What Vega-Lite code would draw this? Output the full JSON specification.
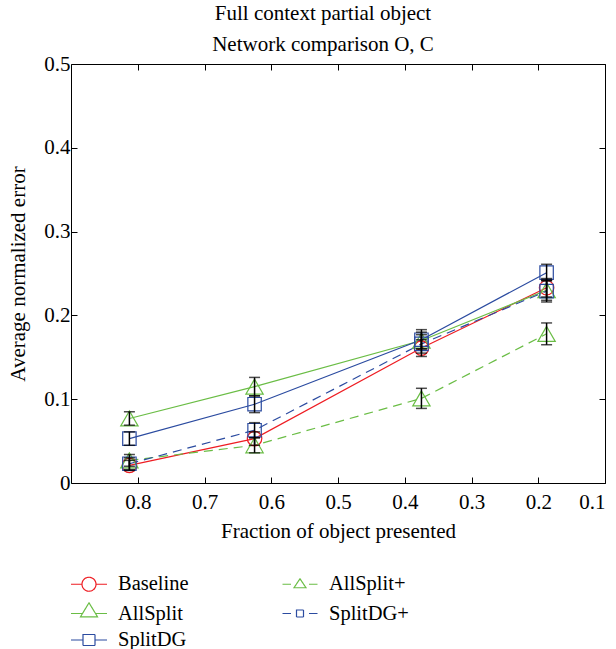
{
  "$schema": "https://vega.github.io/schema/vega-lite/v6.json",
  "width": 534,
  "height": 419,
  "autosize": {"type": "none"},
  "padding": {"left": 71, "top": 64, "right": 11, "bottom": 166},
  "background": "white",
  "config": {
    "font": "'Liberation Serif', 'Times New Roman', Times, serif",
    "view": {"stroke": "black", "strokeWidth": 1},
    "axis": {
      "domain": false,
      "grid": false,
      "labelFont": "'Liberation Serif', 'Times New Roman', Times, serif",
      "labelFontSize": 21,
      "labelColor": "black",
      "tickColor": "black",
      "tickSize": -6,
      "tickWidth": 1,
      "titleFont": "'Liberation Serif', 'Times New Roman', Times, serif",
      "titleFontSize": 21,
      "titleFontWeight": "normal",
      "titleColor": "black"
    }
  },
  "title": {
    "text": ["Full context partial object", "Network comparison O, C"],
    "font": "'Liberation Serif', 'Times New Roman', Times, serif",
    "fontSize": 21,
    "fontWeight": "normal",
    "color": "black",
    "lineHeight": 31,
    "offset": -2,
    "dx": -15,
    "anchor": "middle"
  },
  "data": {
    "values": [
      {"series": "Baseline", "frac": 0.8125, "err": 0.021, "lo": 0.015, "hi": 0.027},
      {"series": "Baseline", "frac": 0.625, "err": 0.053, "lo": 0.045, "hi": 0.061},
      {"series": "Baseline", "frac": 0.375, "err": 0.161, "lo": 0.151, "hi": 0.171},
      {"series": "Baseline", "frac": 0.1875, "err": 0.233, "lo": 0.222, "hi": 0.244},
      {"series": "AllSplit", "frac": 0.8125, "err": 0.077, "lo": 0.069, "hi": 0.085},
      {"series": "AllSplit", "frac": 0.625, "err": 0.115, "lo": 0.104, "hi": 0.126},
      {"series": "AllSplit", "frac": 0.375, "err": 0.170, "lo": 0.160, "hi": 0.180},
      {"series": "AllSplit", "frac": 0.1875, "err": 0.230, "lo": 0.218, "hi": 0.242},
      {"series": "SplitDG", "frac": 0.8125, "err": 0.053, "lo": 0.045, "hi": 0.061},
      {"series": "SplitDG", "frac": 0.625, "err": 0.094, "lo": 0.084, "hi": 0.104},
      {"series": "SplitDG", "frac": 0.375, "err": 0.171, "lo": 0.160, "hi": 0.183},
      {"series": "SplitDG", "frac": 0.1875, "err": 0.251, "lo": 0.241, "hi": 0.261},
      {"series": "AllSplit+", "frac": 0.8125, "err": 0.027, "lo": 0.020, "hi": 0.034},
      {"series": "AllSplit+", "frac": 0.625, "err": 0.045, "lo": 0.036, "hi": 0.054},
      {"series": "AllSplit+", "frac": 0.375, "err": 0.101, "lo": 0.089, "hi": 0.113},
      {"series": "AllSplit+", "frac": 0.1875, "err": 0.178, "lo": 0.165, "hi": 0.191},
      {"series": "SplitDG+", "frac": 0.8125, "err": 0.023, "lo": 0.016, "hi": 0.030},
      {"series": "SplitDG+", "frac": 0.625, "err": 0.063, "lo": 0.054, "hi": 0.072},
      {"series": "SplitDG+", "frac": 0.375, "err": 0.166, "lo": 0.155, "hi": 0.177},
      {"series": "SplitDG+", "frac": 0.1875, "err": 0.229, "lo": 0.216, "hi": 0.242}
    ]
  },
  "layer": [
    {
      "encoding": {
        "x": {
          "field": "frac", "type": "quantitative",
          "scale": {"domain": [0.1, 0.9], "reverse": true, "nice": false, "zero": false},
          "axis": {"values": [0.1, 0.2, 0.3, 0.4, 0.5, 0.6, 0.7, 0.8], "format": ".1f", "labelPadding": 14, "title": "Fraction of object presented", "titlePadding": 8}
        },
        "y": {
          "field": "err", "type": "quantitative",
          "title": "Average normalized error",
          "scale": {"domain": [0, 0.5], "nice": false},
          "axis": {"values": [0, 0.1, 0.2, 0.3, 0.4, 0.5], "labelExpr": "datum.value == 0 ? '0' : format(datum.value, '.1f')", "labelPadding": 7, "titlePadding": 15}
        }
      },
      "layer": [
        {
          "transform": [{"filter": {"field": "series", "oneOf": ["Baseline", "AllSplit", "SplitDG"]}}],
          "mark": {"type": "line", "strokeWidth": 1.2},
          "encoding": {
            "color": {
              "field": "series", "type": "nominal",
              "scale": {
                "domain": ["Baseline", "AllSplit", "SplitDG", "AllSplit+", "SplitDG+"],
                "range": ["#ee1d23", "#6abd45", "#2b4ba0", "#6abd45", "#2b4ba0"]
              },
              "legend": {
                "title": null,
                "orient": "none",
                "legendX": 7,
                "legendY": 509,
                "columns": 2,
                "columnPadding": 91,
                "rowPadding": 4.5,
                "symbolSize": 400,
                "symbolStrokeWidth": 1.2,
                "symbolFillColor": "transparent",
                "labelFont": "'Liberation Serif', 'Times New Roman', Times, serif",
                "labelFontSize": 20.5,
                "labelColor": "black",
                "labelOffset": 18,
                "labelLimit": 200,
                "encode": {
                  "symbols": {
                    "update": {
                      "fill": {"value": "transparent"},
                      "strokeDash": {"value": [1, 0]},
                      "shape": {"signal": "datum.value === 'Baseline' ? 'M-1.8,0H-0.7M0.7,0H1.8M-0.7,0A0.7,0.7,0,1,1,0.7,0A0.7,0.7,0,1,1,-0.7,0' : datum.value === 'AllSplit' ? 'M-1.8,0H-0.65M0.65,0H1.8M0,-1.07L0.85,0.33L-0.85,0.33Z' : datum.value === 'SplitDG' ? 'M-1.8,0H-0.6M0.6,0H1.8M-0.6,-0.55H0.6V0.55H-0.6Z' : datum.value === 'AllSplit+' ? 'M-1.75,0H-0.9M0.9,0H1.75M0,-0.55L0.6,0.35L-0.6,0.35Z' : 'M-1.75,0H-0.9M0.9,0H1.75M-0.35,-0.35H0.35V0.35H-0.35Z'"}
                    }
                  }
                }
              }
            }
          }
        },
        {
          "transform": [{"filter": {"field": "series", "oneOf": ["AllSplit+", "SplitDG+"]}}],
          "mark": {"type": "line", "strokeWidth": 1.2, "strokeDash": [9, 6]},
          "encoding": {
            "color": {"field": "series", "type": "nominal"}
          }
        },
        {
          "transform": [{"filter": {"field": "series", "equal": "Baseline"}}],
          "mark": {"type": "point", "shape": "circle", "filled": false, "strokeWidth": 1.2, "size": 210, "opacity": 1},
          "encoding": {
            "color": {"field": "series", "type": "nominal"}
          }
        },
        {
          "transform": [{"filter": {"field": "series", "oneOf": ["AllSplit", "AllSplit+"]}}],
          "mark": {"type": "point", "shape": "triangle-up", "filled": false, "strokeWidth": 1.2, "size": 300, "opacity": 1},
          "encoding": {
            "color": {"field": "series", "type": "nominal"}
          }
        },
        {
          "transform": [{"filter": {"field": "series", "oneOf": ["SplitDG", "SplitDG+"]}}],
          "mark": {"type": "point", "shape": "square", "filled": false, "strokeWidth": 1.2, "size": 180, "opacity": 1},
          "encoding": {
            "color": {"field": "series", "type": "nominal"}
          }
        },
        {
          "mark": {"type": "errorbar", "color": "black", "thickness": 1.5, "ticks": {"size": 11, "thickness": 1.5, "color": "black"}},
          "encoding": {
            "y": {"field": "lo", "type": "quantitative", "title": "Average normalized error"},
            "y2": {"field": "hi"},
            "detail": {"field": "series", "type": "nominal"}
          }
        }
      ]
    },
    {
      "mark": {"type": "point", "opacity": 0},
      "encoding": {
        "x": {
          "field": "frac", "type": "quantitative",
          "axis": {"orient": "top", "labels": false, "title": null, "values": [0.1, 0.2, 0.3, 0.4, 0.5, 0.6, 0.7, 0.8]}
        },
        "y": {
          "field": "err", "type": "quantitative",
          "axis": {"orient": "right", "labels": false, "title": null, "values": [0, 0.1, 0.2, 0.3, 0.4, 0.5]}
        }
      }
    }
  ],
  "resolve": {"axis": {"x": "independent", "y": "independent"}}
}
